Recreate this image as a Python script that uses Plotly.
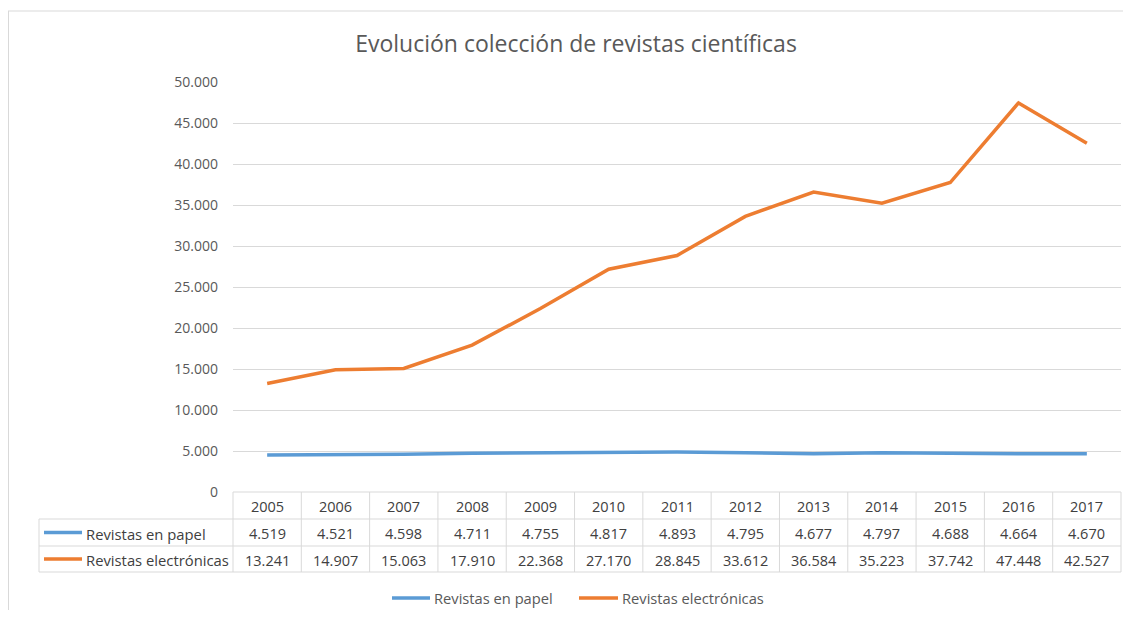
import plotly.graph_objects as go

years = ["2005", "2006", "2007", "2008", "2009", "2010", "2011",
         "2012", "2013", "2014", "2015", "2016", "2017"]
papel = [4519, 4521, 4598, 4711, 4755, 4817, 4893, 4795, 4677, 4797, 4688, 4664, 4670]
electronicas = [13241, 14907, 15063, 17910, 22368, 27170, 28845, 33612, 36584, 35223, 37742, 47448, 42527]
series_names = ["Revistas en papel", "Revistas electrónicas"]
colors = ["#5B9BD5", "#ED7D31"]
title = "Evolución colección de revistas científicas"

# page offset of the plot div (browser body margin)
OFF = 8
W, H = 1131 - OFF, 618 - 2 * OFF
# page-pixel geometry of the plot area
PX0, PX1, PY0, PY1 = 233, 1121, 82, 492
L, R, T = PX0 - OFF, W - (PX1 - OFF), PY0 - OFF
B = H - (PY1 - OFF)
pw, ph = W - L - R, H - T - B
FONT = "Open Sans"


def px(x):
    return (x - PX0) / pw


def py(y):
    return (PY1 - y) / ph


def fmt(v):
    return f"{v:,}".replace(",", ".")


n = len(years)


def col_center(i):
    return (i + 0.5) / n


fig = go.Figure()
for name, vals, c in zip(series_names, [papel, electronicas], colors):
    fig.add_trace(go.Scatter(x=years, y=vals, name=name, mode="lines",
                             line=dict(color=c, width=3.5), showlegend=False,
                             cliponaxis=False))

shapes = []
ann = []
grid = "#D9D9D9"
y_top, y_r1, y_r2, y_bot = 492, 519, 546, 572
for i in range(n + 1):
    xx = i / n
    shapes.append(dict(type="line", xref="paper", yref="paper", x0=xx, x1=xx,
                       y0=py(y_top), y1=py(y_bot), line=dict(color=grid, width=1)))
shapes.append(dict(type="line", xref="paper", yref="paper", x0=px(39), x1=px(39),
                   y0=py(y_r1), y1=py(y_bot), line=dict(color=grid, width=1)))
shapes.append(dict(type="line", xref="paper", yref="paper", x0=0, x1=1,
                   y0=py(y_top), y1=py(y_top), line=dict(color=grid, width=1)))
for yy in (y_r1, y_r2, y_bot):
    shapes.append(dict(type="line", xref="paper", yref="paper", x0=px(39), x1=1,
                       y0=py(yy), y1=py(yy), line=dict(color=grid, width=1)))

txt_color = "#404040"
FS = 14.5
row_centers = [(y_top + y_r1) / 2 + 1, (y_r1 + y_r2) / 2 + 1, (y_r2 + y_bot) / 2 + 1]
for i, yr in enumerate(years):
    for r, txt in enumerate([yr, fmt(papel[i]), fmt(electronicas[i])]):
        ann.append(dict(x=col_center(i), xref="paper", y=py(row_centers[r]), yref="paper",
                        text=txt, showarrow=False, xanchor="center", yanchor="middle",
                        font=dict(size=FS, color=txt_color, family=FONT)))

for k, (name, c) in enumerate(zip(series_names, colors)):
    yc = row_centers[k + 1]
    shapes.append(dict(type="line", xref="paper", yref="paper", x0=px(44), x1=px(82),
                       y0=py(yc - 1), y1=py(yc - 1), line=dict(color=c, width=3.5)))
    ann.append(dict(x=px(84), xref="paper", y=py(yc), yref="paper", text=name,
                    xanchor="left", yanchor="middle", showarrow=False,
                    font=dict(size=14.8, color=txt_color, family=FONT)))

leg_y = 598
leg_items = [(392, 430, 432), (579, 618, 620)]
for (x0, x1, xt), name, c in zip(leg_items, series_names, colors):
    shapes.append(dict(type="line", xref="paper", yref="paper", x0=px(x0), x1=px(x1),
                       y0=py(leg_y), y1=py(leg_y), line=dict(color=c, width=3.5)))
    ann.append(dict(x=px(xt), xref="paper", y=py(leg_y), yref="paper", text=name,
                    xanchor="left", yanchor="middle", showarrow=False,
                    font=dict(size=14.7, color="#595959", family=FONT)))

# outer chart border (left and top edges visible)
shapes.append(dict(type="line", xref="paper", yref="paper", x0=px(8.5), x1=px(8.5),
                   y0=py(11), y1=py(700), line=dict(color="#D9D9D9", width=1)))
shapes.append(dict(type="line", xref="paper", yref="paper", x0=px(8), x1=px(1131),
                   y0=py(11), y1=py(11), line=dict(color="#D9D9D9", width=1)))

fig.update_layout(
    width=W, height=H,
    margin=dict(l=L, r=R, t=T, b=B),
    paper_bgcolor="white", plot_bgcolor="white",
    separators=",.",
    title=dict(text=title, x=(576 - OFF) / W, xanchor="center",
               y=1 - (44 - OFF) / H, yanchor="middle",
               font=dict(size=23, color="#595959", family=FONT)),
    xaxis=dict(type="category", range=[-0.5, n - 0.5], showticklabels=False,
               showgrid=False, zeroline=False, showline=False, ticks=""),
    yaxis=dict(range=[0, 50000], dtick=5000, tickformat=",d", showgrid=True,
               gridcolor=grid, gridwidth=1, zeroline=False, showline=False,
               ticks="", ticklabelstandoff=14,
               tickfont=dict(size=14, color="#595959", family=FONT)),
    shapes=shapes, annotations=ann,
)

fig.write_html("out.html")
